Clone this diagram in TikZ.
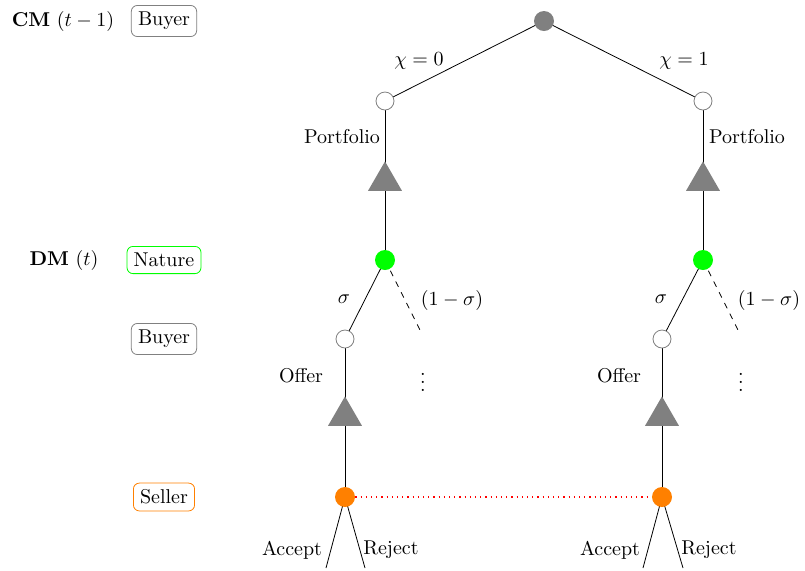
\documentclass[tikz,border=0pt]{standalone}
\usetikzlibrary{shapes.geometric}
\begin{document}
\begin{tikzpicture}[x=0.5pt,y=-0.5pt,
  opendot/.style={circle,draw=gray,fill=white,inner sep=0pt,minimum size=9pt},
  rootdot/.style={circle,fill=gray,inner sep=0pt,minimum size=10pt},
  naturedot/.style={circle,fill=green,inner sep=0pt,minimum size=10pt},
  sellerdot/.style={circle,fill=orange,inner sep=0pt,minimum size=10pt},
  infotri/.style={regular polygon,regular polygon sides=3,fill=gray,inner sep=0pt,minimum size=19.6pt},
  rolebox/.style={draw=#1,rounded corners=3pt},
  infoset/.style={draw=red,dotted,line width=0.6pt}
]
\useasboundingbox (0,0) rectangle (805,570);
% left legend
\node (cm) at (63,21) {\textbf{CM} $(t-1)$};
\node[rolebox=gray] (b1) at (164,21) {Buyer};
\node (dm) at (64,260) {\textbf{DM} $(t)$};
\node[rolebox=green] (nat) at (164,260) {Nature};
\node[rolebox=gray] (b2) at (164,339) {Buyer};
\node[rolebox=orange] (sel) at (164,497) {Seller};

% coordinates
\coordinate (rootc) at (544,21);
\coordinate (lbc) at (385,101);
\coordinate (rbc) at (703,101);
\coordinate (lnc) at (385,260);
\coordinate (rnc) at (703,260);
\coordinate (lb2c) at (345,339);
\coordinate (rb2c) at (662,339);
\coordinate (lsc) at (345,497);
\coordinate (rsc) at (662,497);

% edges
\draw (rootc) -- (lbc);
\draw (rootc) -- (rbc);
\draw (lbc) -- (lnc);
\draw (rbc) -- (rnc);
\draw (lnc) -- (lb2c);
\draw (rnc) -- (rb2c);
\coordinate (ldash) at (420,330);
\coordinate (rdash) at (738,330);
\draw[dashed] (lnc) -- (ldash);
\draw[dashed] (rnc) -- (rdash);
\draw (lb2c) -- (lsc);
\draw (rb2c) -- (rsc);
\path[infoset] (lsc) -- (rsc);
\coordinate (lacc) at (326,568);
\coordinate (lrej) at (365,568);
\coordinate (racc) at (643,568);
\coordinate (rrej) at (683,568);
\draw (lsc) -- (lacc);
\draw (lsc) -- (lrej);
\draw (rsc) -- (racc);
\draw (rsc) -- (rrej);

% nodes on top
\node[rootdot] (root) at (rootc) {};
\node[opendot] (lb) at (lbc) {};
\node[opendot] (rb) at (rbc) {};
\node[naturedot] (ln) at (lnc) {};
\node[naturedot] (rn) at (rnc) {};
\node[opendot] (lb2) at (lb2c) {};
\node[opendot] (rb2) at (rb2c) {};
\node[sellerdot] (ls) at (lsc) {};
\node[sellerdot] (rs) at (rsc) {};
\node[infotri] (lt1) at (385,181) {};
\node[infotri] (rt1) at (703,181) {};
\node[infotri] (lt2) at (345,416) {};
\node[infotri] (rt2) at (662,416) {};

% labels
\node (chi0) at (419,61) {$\chi=0$};
\node (chi1) at (684,61) {$\chi=1$};
\node (pl) at (342,137) {Portfolio};
\node (pr) at (747,137) {Portfolio};
\node (sl) at (344,299) {$\sigma$};
\node (sr) at (661,299) {$\sigma$};
\node (osl) at (452,300) {$(1-\sigma)$};
\node (osr) at (769,300) {$(1-\sigma)$};
\node (ol) at (301,376) {Offer};
\node (or) at (619,376) {Offer};
\node[inner sep=0pt] (vl) at (423,376) {$\vdots$};
\node[inner sep=0pt] (vr) at (741,376) {$\vdots$};
\node (al) at (292,550) {Accept};
\node (rl) at (391,550) {Reject};
\node (ar) at (610,550) {Accept};
\node (rr) at (709,550) {Reject};
\end{tikzpicture}
\end{document}
